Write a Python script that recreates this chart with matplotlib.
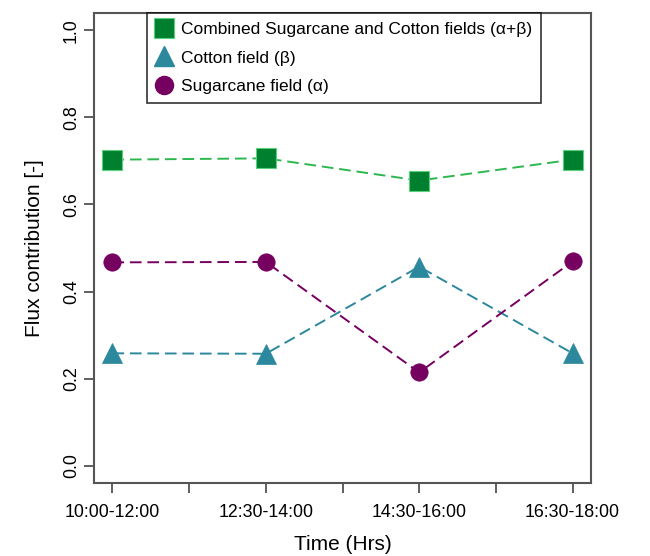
import matplotlib
matplotlib.use("Agg")
import matplotlib.pyplot as plt
from matplotlib.lines import Line2D

plt.rcParams['font.family'] = ['Liberation Sans', 'DejaVu Sans']

periods = ["10:00-12:00", "12:30-14:00", "14:30-16:00", "16:30-18:00"]
combined = [0.703, 0.706, 0.655, 0.703]
cotton = [0.258, 0.257, 0.457, 0.258]
sugarcane = [0.467, 0.468, 0.214, 0.469]
series_labels = ["Combined Sugarcane and Cotton fields (\u03b1+\u03b2)",
                 "Cotton field (\u03b2)", "Sugarcane field (\u03b1)"]

x = list(range(1, len(periods) + 1))

fig = plt.figure(figsize=(6.5, 5.56), dpi=100)
ax = fig.add_axes([94/650, 1-483/556, (591-94)/650, (483-13)/556])

c_sq_fill, c_sq_line = '#007F2F', '#2DB84F'
c_tri = '#2B889D'
c_cir = '#760060'

ax.plot(x, combined, linestyle=(0, (6, 3)), color=c_sq_line, lw=1.4, zorder=2)
ax.plot(x, combined, linestyle='none', marker='s', ms=14.5, mfc=c_sq_fill,
        mec='#5BD07A', mew=0.8, zorder=3)
ax.plot(x, cotton, linestyle=(0, (6, 3)), color=c_tri, lw=1.4, zorder=2)
ax.plot(x, cotton, linestyle='none', marker='^', ms=15, mfc=c_tri, mec=c_tri,
        mew=0.5, zorder=3)
ax.plot(x, sugarcane, linestyle=(0, (6, 3)), color=c_cir, lw=1.4, zorder=2)
ax.plot(x, sugarcane, linestyle='none', marker='o', ms=12.5, mfc=c_cir,
        mec=c_cir, mew=0.5, zorder=3)

ax.set_xlim(0.88, 4.12)
ax.set_ylim(-0.04, 1.04)

ticks = [1, 1.5, 2, 2.5, 3, 3.5, 4]
ax.set_xticks(ticks)
ax.set_xticklabels([periods[int(t)-1] if t == int(t) else '' for t in ticks], fontsize=12.8)
ax.set_yticks([0, 0.2, 0.4, 0.6, 0.8, 1.0])
ax.set_yticklabels(['0.0', '0.2', '0.4', '0.6', '0.8', '1.0'], fontsize=12.8,
                   rotation=90, va='center')
ax.tick_params(direction='out', length=7, width=1.2, color='#444444')
ax.tick_params(axis='x', pad=8)
ax.tick_params(axis='y', pad=3)
for s in ax.spines.values():
    s.set_color('#555555')
    s.set_linewidth(1.5)

ax.set_xlabel("Time (Hrs)", fontsize=15, labelpad=10)
ax.set_ylabel("Flux contribution [-]", fontsize=15, labelpad=14)

handles = [
    Line2D([], [], linestyle='none', marker='s', ms=14, mfc=c_sq_fill, mec='#5BD07A', mew=0.8),
    Line2D([], [], linestyle='none', marker='^', ms=14, mfc=c_tri, mec=c_tri),
    Line2D([], [], linestyle='none', marker='o', ms=13, mfc=c_cir, mec=c_cir),
]
leg = ax.legend(handles, series_labels, loc='upper left',
                bbox_to_anchor=((147-94)/497, 1.0), borderaxespad=0,
                fontsize=12.5, frameon=True, fancybox=False, handlelength=1.0,
                handletextpad=0.45, labelspacing=0.78, borderpad=0.5)
leg.get_frame().set_edgecolor('black')
leg.get_frame().set_linewidth(1.2)

fig.savefig("out.png", dpi=100)
